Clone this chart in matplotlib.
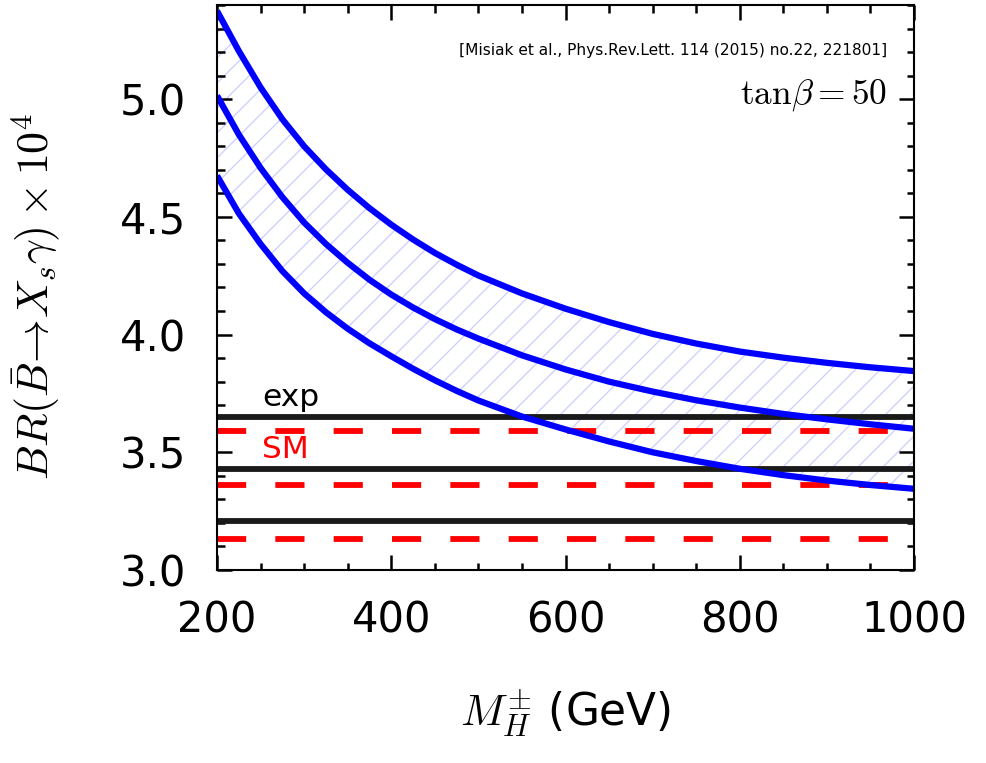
import matplotlib
matplotlib.use("Agg")
import matplotlib.pyplot as plt
from matplotlib.ticker import MultipleLocator, FormatStrFormatter

plt.rcParams['mathtext.fontset'] = 'cm'
plt.rcParams['font.family'] = ['DejaVu Sans']
plt.rcParams['hatch.linewidth'] = 0.6

# Charged Higgs mass (GeV)
mass = [200, 225, 250, 275, 300, 325, 350, 375, 400, 425, 450, 475, 500, 550, 600, 650,
        700, 750, 800, 850, 900, 950, 1000]
# BR x 10^4 curves (upper, central, lower)
br_upper = [5.375, 5.205, 5.05, 4.915, 4.80, 4.702, 4.615, 4.537, 4.467, 4.404, 4.347, 4.297,
            4.251, 4.175, 4.11, 4.053, 4.003, 3.962, 3.928, 3.902, 3.88, 3.861, 3.845]
br_central = [5.015, 4.85, 4.708, 4.584, 4.476, 4.385, 4.305, 4.233, 4.17, 4.115, 4.066, 4.022,
              3.983, 3.912, 3.852, 3.80, 3.758, 3.721, 3.69, 3.663, 3.64, 3.619, 3.60]
br_lower = [4.675, 4.515, 4.385, 4.27, 4.175, 4.095, 4.025, 3.963, 3.908, 3.855, 3.806, 3.761,
            3.72, 3.652, 3.597, 3.546, 3.50, 3.463, 3.43, 3.403, 3.38, 3.361, 3.345]
# Experimental and SM values (upper, central, lower)
exp_lines = [3.65, 3.43, 3.21]
sm_lines = [3.59, 3.36, 3.13]

fig = plt.figure(figsize=(986/150, 763/150), dpi=150)
ax = fig.add_axes([217/986, 1-570/763, 697/986, 565/763])

ax.fill_between(mass, br_lower, br_upper, facecolor='none', edgecolor=(0.8, 0.8, 1.0),
                hatch='//', linewidth=0)
for yv in exp_lines:
    ax.axhline(yv, color='#1a1a1a', lw=2.8)
for yv in sm_lines:
    ax.axhline(yv, color='#ff0000', lw=2.8, dashes=(5, 5))
for series in (br_upper, br_central, br_lower):
    ax.plot(mass, series, color='#0000ff', lw=3.0, solid_capstyle='butt',
            solid_joinstyle='round')

ax.set_xlim(200, 1000)
ax.set_ylim(3.0, 5.4)
ax.xaxis.set_major_locator(MultipleLocator(200))
ax.xaxis.set_minor_locator(MultipleLocator(50))
ax.yaxis.set_major_locator(MultipleLocator(0.5))
ax.yaxis.set_minor_locator(MultipleLocator(0.1))
ax.tick_params(which='both', direction='in', top=True, right=True, width=1.2)
ax.tick_params(which='major', length=7.2, labelsize=20)
ax.tick_params(axis='x', which='major', pad=14)
ax.tick_params(axis='y', which='major', pad=15)
ax.tick_params(which='minor', length=3.6)
ax.yaxis.set_major_formatter(FormatStrFormatter('%.1f'))
for s in ax.spines.values():
    s.set_linewidth(1.0)

ax.set_xlabel(r'$M_H^{\pm}$ (GeV)', fontsize=21)
ax.xaxis.set_label_coords(0.5, -0.205)
ax.set_ylabel(r'$BR(\bar{B}\!\to\! X_s\gamma)\times 10^4$', fontsize=21)
ax.yaxis.set_label_coords(-0.222, 0.485)

ax.text(0.962, 0.92, '[Misiak et al., Phys.Rev.Lett. 114 (2015) no.22, 221801]',
        transform=ax.transAxes, ha='right', va='center', fontsize=7.4)
ax.text(0.962, 0.84, r'$\tan\!\beta = 50$', transform=ax.transAxes, ha='right',
        va='center', fontsize=17)
ax.text(252, 3.733, 'exp', color='black', fontsize=15, ha='left', va='center')
ax.text(252, 3.513, 'SM', color='#ff0000', fontsize=15, ha='left', va='center')

fig.savefig('out.png', dpi=150)
